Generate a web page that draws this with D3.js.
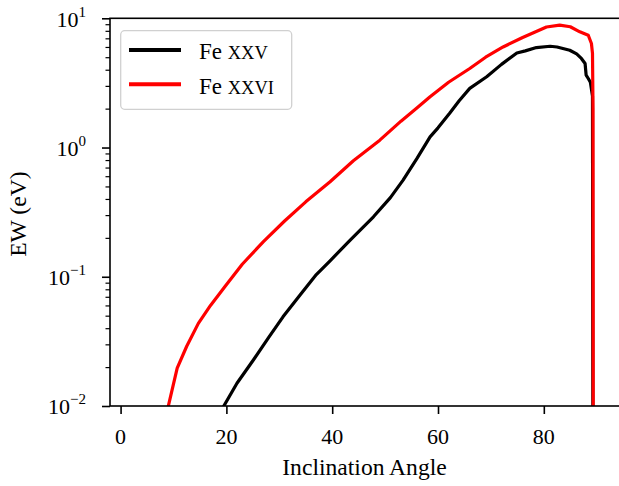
<!DOCTYPE html>
<html><head><meta charset="utf-8">
<script src="https://cdn.jsdelivr.net/npm/d3@7"></script>
<style>body{margin:0;background:#fff}svg{display:block}text{font-family:"Liberation Serif","DejaVu Serif",serif;fill:#000}</style>
</head><body><svg id="c" width="619" height="486"></svg>
<script>
const xTicks = [0, 20, 40, 60, 80];
const yTicks = [0.01, 0.1, 1, 10];
const yTickExp = ["\u22122", "\u22121", "0", "1"];
const seriesNames = ["XXV", "XXVI"];
const seriesColors = ["#000000", "#ff0000"];

const fe25Angle = [19.2, 22.0, 25.1, 28.0, 30.7, 34.0, 37.0, 39.6, 43.4, 47.8, 51.0, 53.4, 56.0, 58.5, 60.0, 62.2, 64.0, 66.0, 69.2, 72.0, 74.9, 76.5, 78.6, 81.2, 82.5, 84.9, 86.2, 87.1, 87.8, 88.0, 88.4, 88.8, 89.2, 89.3];
const fe25EW    = [0.0095, 0.015, 0.0227, 0.034, 0.049, 0.073, 0.104, 0.133, 0.192, 0.291, 0.41, 0.56, 0.82, 1.21, 1.42, 1.84, 2.3, 2.87, 3.53, 4.4, 5.39, 5.6, 5.94, 6.08, 6.0, 5.66, 5.3, 4.89, 4.47, 3.63, 3.42, 3.2, 2.5, 0.001];

const fe26Angle = [8.9, 10.7, 12.5, 14.7, 17.0, 19.7, 23.0, 27.0, 31.0, 35.0, 39.6, 44.0, 49.0, 53.0, 56.0, 58.5, 62.0, 66.0, 69.0, 72.3, 76.0, 80.5, 83.0, 85.0, 86.8, 88.4, 89.0, 89.2, 89.3, 89.35];
const fe26EW    = [0.0095, 0.0196, 0.029, 0.0436, 0.06, 0.0838, 0.125, 0.187, 0.27, 0.38, 0.543, 0.79, 1.14, 1.6, 2.02, 2.47, 3.2, 4.09, 5.0, 6.0, 7.1, 8.57, 8.85, 8.6, 7.86, 7.39, 6.38, 5.35, 2.0, 0.001];

const svg = d3.select("#c");
const L = 110, R = 620, T = 18.3, B = 406;
const x = d3.scaleLinear().domain([-2, 94.4]).range([L, R]);
const y = d3.scaleLog().domain([0.01, 10]).range([B, T]);

svg.append("defs").append("clipPath").attr("id", "clip")
  .append("rect").attr("x", L).attr("y", T).attr("width", R - L).attr("height", B - T);

const line = d3.line().x(d => x(d[0])).y(d => y(d[1]));
const s25 = fe25Angle.map((a, i) => [a, fe25EW[i]]);
const s26 = fe26Angle.map((a, i) => [a, fe26EW[i]]);
const g = svg.append("g").attr("clip-path", "url(#clip)");
[s25, s26].forEach((s, i) => {
  g.append("path").datum(s).attr("d", line).attr("fill", "none")
    .attr("stroke", seriesColors[i]).attr("stroke-width", 3.2).attr("stroke-linejoin", "round");
});

// spines
svg.append("rect").attr("x", L).attr("y", T).attr("width", R - L).attr("height", B - T)
  .attr("fill", "none").attr("stroke", "#000").attr("stroke-width", 1.6);

// x axis
const xa = svg.append("g").attr("transform", `translate(0,${B})`)
  .call(d3.axisBottom(x).tickValues(xTicks).tickSize(8).tickFormat(""));
xa.select(".domain").remove();
xa.selectAll("line").attr("stroke-width", 1.6);
xTicks.forEach(v => {
  svg.append("text").attr("x", x(v)).attr("y", 444).attr("text-anchor", "middle")
    .attr("font-size", 22).text(v);
});

// y axis
const minor = [];
for (let e = -2; e < 1; e++) for (let k = 2; k <= 9; k++) minor.push(k * Math.pow(10, e));
const ya = svg.append("g").attr("transform", `translate(${L},0)`);
ya.call(d3.axisLeft(y).tickValues(minor).tickSize(4.5).tickFormat(""));
ya.select(".domain").remove();
ya.selectAll("line").attr("stroke-width", 1.2);
const ya2 = svg.append("g").attr("transform", `translate(${L},0)`);
ya2.call(d3.axisLeft(y).tickValues(yTicks).tickSize(8).tickFormat(""));
ya2.select(".domain").remove();
ya2.selectAll("line").attr("stroke-width", 1.6);
yTicks.forEach((v, i) => {
  const t = svg.append("text").attr("x", 86).attr("y", y(v) + 8.4).attr("text-anchor", "end").attr("font-size", 22);
  t.append("tspan").text("10");
  t.append("tspan").attr("dy", -10).attr("font-size", 15).text(yTickExp[i]);
});

// axis labels
svg.append("text").attr("x", 364.5).attr("y", 474.5).attr("text-anchor", "middle")
  .attr("font-size", 23.6).text("Inclination Angle");
svg.append("text").attr("transform", `translate(25.5,${(T + B) / 2 + 2}) rotate(-90)`).attr("text-anchor", "middle")
  .attr("font-size", 23.6).text("EW (eV)");

// legend
const lg = svg.append("g");
lg.append("rect").attr("x", 120.7).attr("y", 30.7).attr("width", 171).attr("height", 78.6)
  .attr("rx", 4).attr("fill", "#fff").attr("fill-opacity", 0.8).attr("stroke", "#d0d0d0").attr("stroke-width", 1.3);
seriesNames.forEach((n, i) => {
  const yy = 50 + i * 34.3;
  lg.append("line").attr("x1", 129).attr("x2", 181).attr("y1", yy).attr("y2", yy)
    .attr("stroke", seriesColors[i]).attr("stroke-width", 4);
  const t = lg.append("text").attr("x", 199).attr("y", yy + 9.3).attr("font-size", 23);
  t.append("tspan").text("Fe ");
  t.append("tspan").attr("font-size", 18.5).text(n);
});
</script></body></html>
